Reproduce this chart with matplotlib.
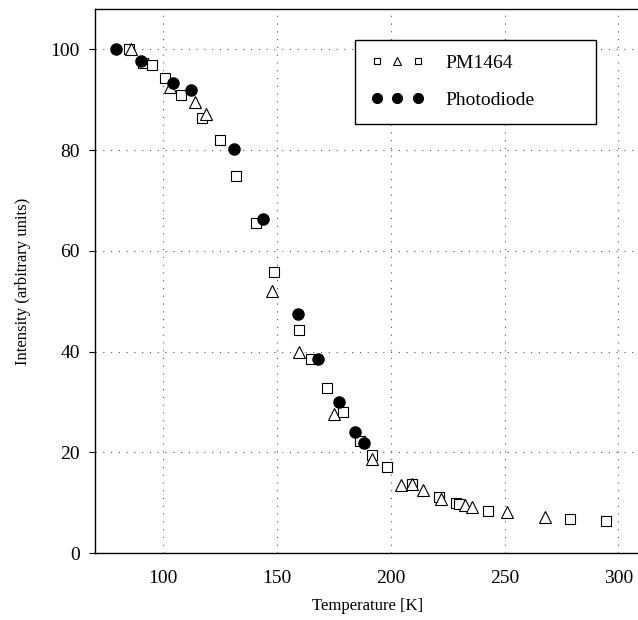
import matplotlib
matplotlib.use('Agg')
import matplotlib.pyplot as plt
from matplotlib.lines import Line2D
from matplotlib.legend_handler import HandlerTuple

# Photodiode (filled circles)
pd_temp = [79.1, 90.2, 104.1, 112.0, 131.0, 144.0, 159.2, 168.1, 177.1, 184.1, 188.1]
pd_int = [100.0, 97.7, 93.4, 91.9, 80.3, 66.3, 47.4, 38.6, 29.9, 24.1, 21.9]

# PM1464, squares
sq_temp = [85.0, 91.3, 95.0, 100.9, 107.9, 117.1, 124.8, 131.8, 140.9, 148.7,
           159.7, 164.8, 171.9, 179.0, 186.6, 191.9, 198.5, 209.3, 221.4, 228.8,
           229.8, 242.8, 278.8, 294.5]
sq_int = [100.1, 97.2, 96.8, 94.3, 90.9, 86.4, 81.9, 74.9, 65.5, 55.8,
          44.2, 38.6, 32.7, 27.9, 22.3, 19.5, 17.0, 13.6, 11.2, 9.9,
          9.7, 8.3, 6.7, 6.3]

# PM1464, triangles
tr_temp = [85.7, 103.1, 114.0, 119.0, 147.9, 159.7, 174.9, 191.9, 204.5, 209.3,
           214.1, 221.9, 232.8, 235.9, 250.9, 267.8]
tr_int = [100.1, 92.5, 89.6, 87.2, 52.0, 39.9, 27.5, 18.6, 13.5, 13.6,
          12.5, 10.8, 9.5, 9.2, 8.2, 7.1]

x_ticks = [100, 150, 200, 250, 300]
y_ticks = [0, 20, 40, 60, 80, 100]

plt.rcParams['font.family'] = ['Liberation Serif', 'DejaVu Serif']

fig = plt.figure(figsize=(6.38, 6.2), dpi=100)
ax = fig.add_axes([95 / 638, 67 / 620, 546 / 638, 544 / 620])

ax.plot(sq_temp, sq_int, linestyle='none', marker='s', ms=6.5, mfc='white',
        mec='black', mew=0.8, zorder=3)
ax.plot(tr_temp, tr_int, linestyle='none', marker='^', ms=8, mfc='white',
        mec='black', mew=0.8, zorder=3)
ax.plot(pd_temp, pd_int, linestyle='none', marker='o', ms=8, mfc='black',
        mec='black', zorder=4)

ax.set_xlim(70, 310)
ax.set_ylim(0, 108)
ax.set_xticks(x_ticks)
ax.set_yticks(y_ticks)
ax.grid(True, color='#555555', linestyle=(0, (1, 6)), linewidth=0.8)

for s in ax.spines.values():
    s.set_linewidth(1.0)

ax.tick_params(axis='y', direction='out', length=4, width=0.8, pad=7,
               labelsize=14, right=True)
ax.tick_params(axis='x', length=0, pad=12, labelsize=14)

ax.set_xlabel('Temperature [K]', fontsize=12, labelpad=8)
ax.set_ylabel('Intensity (arbitrary units)', fontsize=12, labelpad=14)

# legend
h_sq = Line2D([], [], linestyle='none', marker='s', ms=5, mfc='white', mec='black', mew=0.8)
h_tr = Line2D([], [], linestyle='none', marker='^', ms=6, mfc='white', mec='black', mew=0.8)
h_pd = Line2D([], [], linestyle='none', marker='o', ms=7, mfc='black', mec='black')
leg = ax.legend([(h_sq, h_tr, h_sq), (h_pd, h_pd, h_pd)], ['PM1464', 'Photodiode'],
                handler_map={tuple: HandlerTuple(ndivide=None, pad=0.4)},
                loc='upper left', bbox_to_anchor=(0.477, 0.943 - 0.149, 0.44, 0.149),
                mode='expand', borderaxespad=0,
                fontsize=14, handlelength=2.8, handletextpad=1.1,
                labelspacing=1.0, borderpad=0.75, fancybox=False, framealpha=1)
leg.get_frame().set_edgecolor('black')
leg.get_frame().set_linewidth(1.0)

fig.savefig('out.png', dpi=100)
